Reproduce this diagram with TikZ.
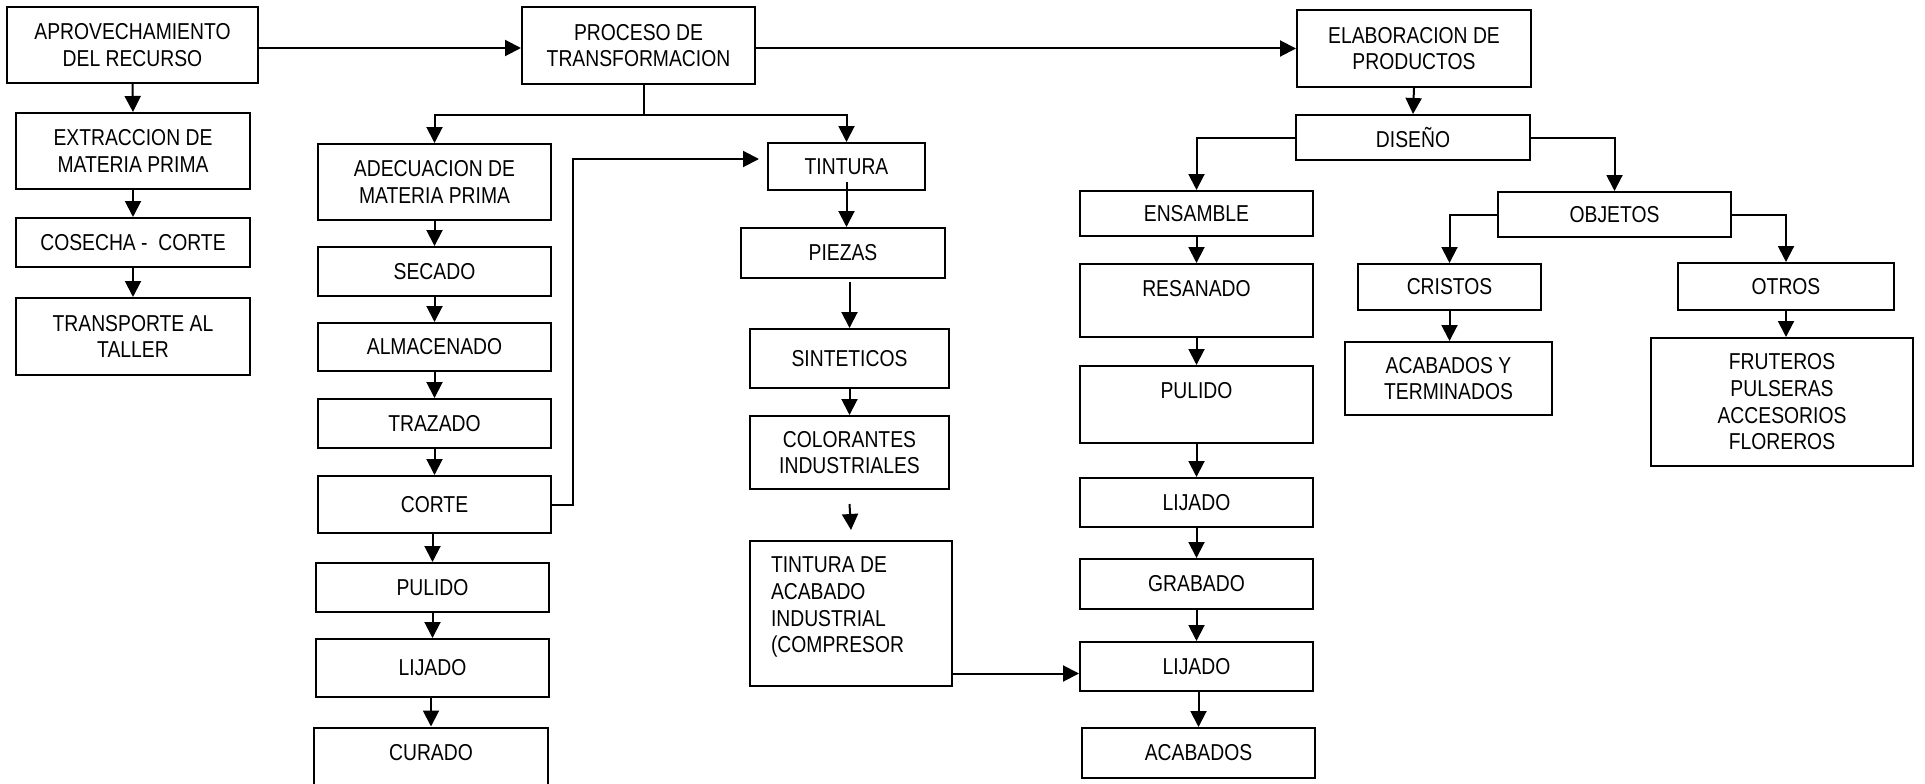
\documentclass[tikz,border=0pt]{standalone}
\usepackage{fontspec}
\setmainfont{Liberation Sans}[FakeStretch=0.84]
\usetikzlibrary{arrows.meta}
\begin{document}
\begin{tikzpicture}[x=1pt,y=-1pt,
  box/.style={draw, line width=2pt, rectangle, inner sep=0pt, align=center,
    font=\fontsize{23}{26.7}\selectfont},
  arr/.style={line width=2pt, -{Triangle[width=16pt,length=16pt]}},
  ln/.style={line width=2pt}]
\useasboundingbox (0,0) rectangle (1925,784);
\clip (0,0) rectangle (1925,784);
% column 1
\node[box, minimum width=251pt, minimum height=76pt] (aprov) at (132.5,45) {APROVECHAMIENTO\\DEL RECURSO};
\node[box, minimum width=234pt, minimum height=76pt] (extr) at (133,151) {EXTRACCION DE\\MATERIA PRIMA};
\node[box, minimum width=234pt, minimum height=49pt] (cosecha) at (133,242.5) {COSECHA -~~CORTE};
\node[box, minimum width=234pt, minimum height=77pt] (transp) at (133,336.5) {TRANSPORTE AL\\TALLER};
% top row
\node[box, minimum width=233pt, minimum height=77pt] (proceso) at (638.5,45.5) {PROCESO DE\\TRANSFORMACION};
\node[box, minimum width=234pt, minimum height=77pt] (elab) at (1414,48.5) {ELABORACION DE\\PRODUCTOS};
% column 2
\node[box, minimum width=233pt, minimum height=76pt] (adec) at (434.5,182) {ADECUACION DE\\MATERIA PRIMA};
\node[box, minimum width=233pt, minimum height=49pt] (secado) at (434.5,271.5) {SECADO};
\node[box, minimum width=233pt, minimum height=48pt] (almac) at (434.5,347) {ALMACENADO};
\node[box, minimum width=233pt, minimum height=49pt] (trazado) at (434.5,423.5) {TRAZADO};
\node[box, minimum width=233pt, minimum height=57pt] (corte) at (434.5,504.5) {CORTE};
\node[box, minimum width=233pt, minimum height=49pt] (pulido) at (432.5,587.5) {PULIDO};
\node[box, minimum width=233pt, minimum height=58pt] (lijado) at (432.5,668) {LIJADO};
\node[box, minimum width=234pt, text height=32.5pt, text depth=40.5pt] (curado) at (431,764) {CURADO};
% column 3
\node[box, minimum width=157pt, minimum height=47pt] (tintura) at (846.5,166.5) {TINTURA};
\node[box, minimum width=204pt, minimum height=50pt] (piezas) at (843,253) {PIEZAS};
\node[box, minimum width=199pt, minimum height=59pt] (sint) at (849.5,358.5) {SINTETICOS};
\node[box, minimum width=199pt, minimum height=73pt] (color) at (849.5,452.5) {COLORANTES\\INDUSTRIALES};
\node[box, minimum width=202pt, inner ysep=16pt, inner xsep=21pt] (tacab) at (851,613.5)
  {\parbox[c][113pt][t]{160pt}{\raggedright TINTURA DE\\ACABADO\\INDUSTRIAL\\(COMPRESOR}};
% column 4
\node[box, minimum width=234pt, minimum height=45pt] (diseno) at (1413,137.5) {DISEÑO};
\node[box, minimum width=233pt, minimum height=45pt] (ensamble) at (1196.5,213.5) {ENSAMBLE};
\node[box, minimum width=233pt, text height=32.5pt, text depth=40.5pt] (resanado) at (1196.5,300.5) {RESANADO};
\node[box, minimum width=233pt, text height=32.5pt, text depth=44.5pt] (pulidob) at (1196.5,404.5) {PULIDO};
\node[box, minimum width=233pt, minimum height=49pt] (lijadoa) at (1196.5,502.5) {LIJADO};
\node[box, minimum width=233pt, minimum height=50pt] (grabado) at (1196.5,584) {GRABADO};
\node[box, minimum width=233pt, minimum height=49pt] (lijadob) at (1196.5,666.5) {LIJADO};
\node[box, minimum width=233pt, minimum height=50pt] (acabados) at (1198.5,753) {ACABADOS};
% right side
\node[box, minimum width=233pt, minimum height=45pt] (objetos) at (1614.5,214.5) {OBJETOS};
\node[box, minimum width=183pt, minimum height=46pt] (cristos) at (1449.5,287) {CRISTOS};
\node[box, minimum width=207pt, minimum height=73pt] (acyt) at (1448.5,378.5) {ACABADOS Y\\TERMINADOS};
\node[box, minimum width=216pt, minimum height=47pt] (otros) at (1786,286.5) {OTROS};
\node[box, minimum width=262pt, minimum height=128pt] (frut) at (1782,402) {FRUTEROS\\PULSERAS\\ACCESORIOS\\FLOREROS};
% connectors
\draw[arr] ([yshift=-3pt]aprov.east) -- ([yshift=-3pt]aprov.east -| proceso.west);
\draw[arr] (proceso.east |- elab.west) -- (elab.west);
\draw[arr] (aprov.south) -- (extr.north);
\draw[arr] (extr.south) -- (cosecha.north);
\draw[arr] (cosecha.south) -- (transp.north);
\draw[ln] ([xshift=5pt]proceso.south) -- ++(0,30) coordinate (pj);
\draw[arr] (pj) -| (adec.north);
\draw[arr] (pj) -| (tintura.north);
\draw[arr] (adec.south) -- (secado.north);
\draw[arr] (secado.south) -- (almac.north);
\draw[arr] (almac.south) -- (trazado.north);
\draw[arr] (trazado.south) -- (corte.north);
\draw[arr] (pulido.north |- corte.south) -- (pulido.north);
\draw[arr] (pulido.south) -- (lijado.north);
\draw[arr] (curado.north |- lijado.south) -- (curado.north);
\coordinate (ctEnd) at (759,159);
\draw[arr] (corte.east) -- ++(21,0) |- (ctEnd);
\draw[arr] ([yshift=9pt]tintura.south) -- (tintura.south |- piezas.north);
\draw[arr] ([yshift=-3pt]sint.north |- piezas.south) -- (sint.north);
\draw[arr] (sint.south) -- (color.north);
\draw[arr] ([yshift=-14pt]color.south) -- ([yshift=10pt]tacab.north);
\draw[arr] ([yshift=-60pt]tacab.east) -- ([yshift=-60pt]tacab.east -| lijadob.west);
\draw[arr] (elab.south) -- (diseno.north);
\draw[arr] (diseno.west) -| (ensamble.north);
\draw[arr] (diseno.east) -| (objetos.north);
\draw[arr] (ensamble.south) -- (resanado.north);
\draw[arr] (resanado.south) -- (pulidob.north);
\draw[arr] (pulidob.south) -- (lijadoa.north);
\draw[arr] (lijadoa.south) -- (grabado.north);
\draw[arr] (grabado.south) -- (lijadob.north);
\draw[arr] (acabados.north |- lijadob.south) -- (acabados.north);
\draw[arr] (objetos.west) -| (cristos.north);
\draw[arr] (objetos.east) -| (otros.north);
\draw[arr] (cristos.south) -- (cristos.south |- acyt.north);
\draw[arr] (otros.south) -- (otros.south |- frut.north);
\end{tikzpicture}
\end{document}
